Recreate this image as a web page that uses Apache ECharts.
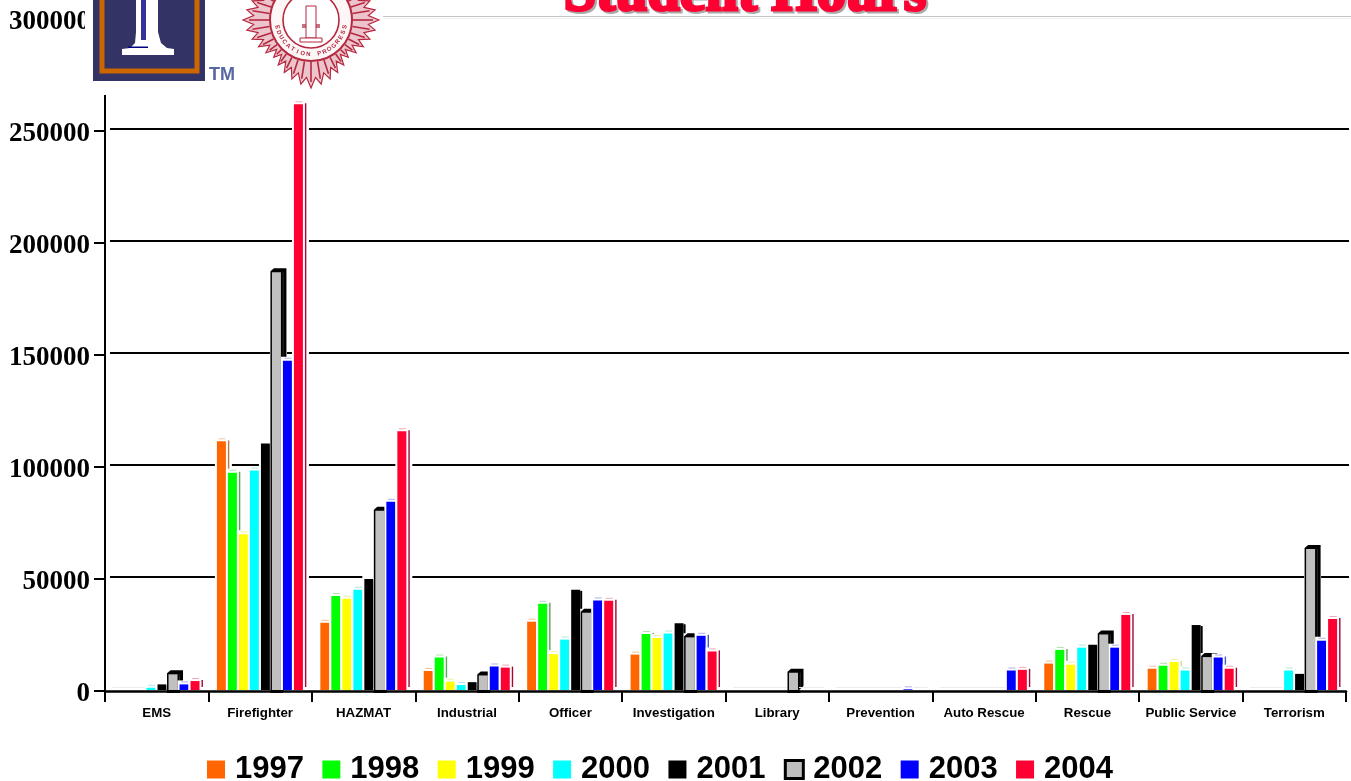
<!DOCTYPE html>
<html>
<head>
<meta charset="utf-8">
<style>html,body{margin:0;padding:0;background:#fff}#c{width:1351px;height:781px}</style>
<script src="https://cdn.jsdelivr.net/npm/echarts@6/dist/echarts.min.js"></script>
</head>
<body>
<div id="c"></div>
<script>
const categories = ['EMS','Firefighter','HAZMAT','Industrial','Officer','Investigation','Library','Prevention','Auto Rescue','Rescue','Public Service','Terrorism'];
const yTicks = [0,50000,100000,150000,200000,250000,300000];
const y1997 = [0,111000,30000,8500,30500,15800,0,0,0,11800,9500,0];
const y1998 = [0,97000,42000,14500,38500,25000,0,0,0,17900,10800,0];
const y1999 = [0,69500,40700,3700,16000,23200,0,0,0,11300,12500,0];
const y2000 = [1000,98000,44700,2200,22500,25200,0,0,0,18900,8700,8700];
const y2001 = [2500,110000,49500,3500,44700,29800,0,0,0,20200,29000,7200];
const y2002 = [7000,186500,80000,6500,34500,23500,7700,0,0,24800,14700,63000];
const y2003 = [2500,147000,84000,10500,40000,24200,0,300,8700,18900,14500,22000];
const y2004 = [4000,261500,115500,10000,39800,17200,0,0,9000,33500,9500,31700];

const years = ['1997','1998','1999','2000','2001','2002','2003','2004'];
const values = [y1997,y1998,y1999,y2000,y2001,y2002,y2003,y2004];
const colors = ['#ff6600','#00ff00','#ffff00','#00ffff','#000000','#c0c0c0','#0000ff','#ff0033'];
const sideColors = ['#b87848','#58a858','#d8d8a0','#a8e0e0','#000000','#000000','#5058c0','#a00838'];
const capColors = ['#f0c0a0','#b0e0b0','#f0f0a0','#b0e8e0','#d0d0d0','#000000','#b0b0e8','#f0a8b8'];

function renderBar(params, api) {
  const s = params.seriesIndex;
  const i = api.value(0), v = api.value(1);
  const p0 = api.coord([i, 0]), pv = api.coord([i, v]);
  const band = api.size([1, 0])[0];
  const pitch = band * 0.1064, w = band * 0.087;
  const x = p0[0] + (s - 3.5) * pitch - w / 2 - 0.2;
  const lift = 1, base = p0[1] - lift, top = pv[1] - lift;
  const kids = [];
  const rect = (rx, ry, rw, rh, fill) => kids.push({type:'rect', shape:{x:rx,y:ry,width:rw,height:rh}, style:{fill:fill}});
  if (v === 0) {
    rect(x - 1, base - 3, w + 5, 1, '#ececec');
    return {type:'group', children:kids};
  }
  rect(x - 2, top - 4, w + 8, base - top + 4, '#ffffff');
  if (s === 5) {
    kids.push({type:'polygon', shape:{points:[[x-1.5,top-1],[x+2,top-4],[x+w+5.5,top-4],[x+w+5.5,base-4],[x+w+1,base],[x-1.5,base]]}, style:{fill:'#000'}});
    rect(x - 1.5, base, w + 4, 3, '#000');
    rect(x + w + 1.8, top, 0.8, base - top - 3, '#303030');
    rect(x, top, w, base - top, colors[s]);
  } else if (s === 4) {
    rect(x, top, w, base - top, colors[s]);
    rect(x + w, top + 1, 2, base - top - 1, '#000');
  } else {
    rect(x, top, w, base - top, colors[s]);
    if (base - top > 8) rect(x + w + 2, top - 1, 1.4, base - top - 2, sideColors[s]);
    rect(x + 1.5, top - 3, w - 2, 1, capColors[s]);
  }
  return {type:'group', children:kids};
}

const series = years.map((y, k) => ({
  name: y, type: 'custom', xAxisIndex: 0, yAxisIndex: 0, z: 3, clip: false,
  renderItem: renderBar,
  itemStyle: {color: colors[k]},
  encode: {x: 0, y: 1},
  data: values[k].map((v, i) => [i, v])
}));

const legendData = years.map((y, k) => k === 5
  ? {name: y, itemStyle: {color: colors[k], borderColor: '#000', borderWidth: 3}}
  : {name: y, itemStyle: {color: colors[k]}});

/* header decoration */
const seal = [];
const sc = [311, 20], red = '#b5283f';
const starPts = [];
for (let a = 0; a < 360; a += 4.5) {
  const r0 = Math.abs(((a + 45) % 90) - 45);
  const outer = 68 - r0 * 0.34;
  const odd = Math.round(a / 4.5) % 2;
  const r = odd ? outer - 9 : outer;
  starPts.push([sc[0] + r * Math.cos(a * Math.PI / 180), sc[1] + r * Math.sin(a * Math.PI / 180)]);
}
seal.push({type:'polygon', z:102, shape:{points:starPts}, style:{fill:'#ecc4cb', stroke:red, lineWidth:1.2}});
for (let a = 0; a < 360; a += 9) {
  const c = Math.cos(a * Math.PI / 180), s = Math.sin(a * Math.PI / 180);
  const r0 = Math.abs(((a + 45) % 90) - 45), outer = 62 - r0 * 0.3;
  seal.push({type:'line', z:103, shape:{x1:sc[0]+42*c, y1:sc[1]+42*s, x2:sc[0]+outer*c, y2:sc[1]+outer*s}, style:{stroke:red, lineWidth:1.6}});
}
seal.push({type:'circle', z:104, shape:{cx:sc[0],cy:sc[1],r:41}, style:{fill:'#fdf6f6', stroke:red, lineWidth:2}});
seal.push({type:'circle', z:104, shape:{cx:sc[0],cy:sc[1],r:28}, style:{fill:'#fff', stroke:red, lineWidth:1.6}});
seal.push({type:'rect', z:105, shape:{x:302,y:24,width:18,height:4}, style:{fill:'#c8707f'}});
seal.push({type:'rect', z:105, shape:{x:306,y:6,width:10,height:32}, style:{fill:'#fff', stroke:red, lineWidth:1}});
seal.push({type:'rect', z:105, shape:{x:300,y:38,width:22,height:4}, style:{fill:'#fff', stroke:red, lineWidth:1}});
const sealText = 'EDUCATION PROGRESS';
[...sealText].forEach((ch, n) => {
  const deg = 90 + (sealText.length / 2 - n - 0.5) * 9.2;
  const rad = deg * Math.PI / 180;
  seal.push({type:'text', z:105, x: sc[0] + 34.5 * Math.cos(rad), y: sc[1] + 34.5 * Math.sin(rad), rotation: (deg - 90) * Math.PI / -180,
    style:{text: ch, fill: red, font: 'bold 6px "Liberation Sans"', textAlign:'center', textVerticalAlign:'middle'}});
});

const graphic = [
  {type:'rect', z:100, shape:{x:85,y:0,width:1266,height:95}, style:{fill:'#fff'}},
  {type:'rect', z:101, shape:{x:93,y:0,width:112,height:81}, style:{fill:'#333366'}},
  {type:'rect', z:102, shape:{x:102,y:-6,width:95,height:77}, style:{fill:'none', stroke:'#cc6600', lineWidth:5}},
  {type:'polygon', z:103, shape:{points:[[136,0],[158,0],[158,32],[161,43],[167,48],[174,49],[174,55],[122,55],[122,49],[130,48],[135,43],[136,32]]}, style:{fill:'#fff'}},
  {type:'rect', z:104, shape:{x:141,y:0,width:5,height:40}, style:{fill:'#333399'}},
  {type:'rect', z:104, shape:{x:128,y:46.5,width:20,height:1.5}, style:{fill:'#000080'}},
  {type:'text', z:103, x:209, y:66, style:{text:'TM', fill:'#5566a0', font:'bold 18px "Liberation Sans"'}},
  {type:'rect', z:101, shape:{x:383,y:16,width:968,height:1}, style:{fill:'#c4c4c4'}},
  {type:'rect', z:101, shape:{x:383,y:18,width:968,height:1}, style:{fill:'#efefef'}},
  {type:'text', z:106, x:747, y:26, style:{text:'Student Hours', fill:'#aaaaaa', font:'bold 58px "Liberation Serif"', textAlign:'center', textVerticalAlign:'bottom',
     stroke:'#aaaaaa', lineWidth:3}},
  {type:'text', z:107, x:745, y:24, style:{text:'Student Hours', fill:'#ff0033', font:'bold 58px "Liberation Serif"', textAlign:'center', textVerticalAlign:'bottom',
     stroke:'#ff0033', lineWidth:3}}
].concat(seal);

const chart = echarts.init(document.getElementById('c'), null, {renderer:'canvas'});
chart.setOption({
  animation: false,
  backgroundColor: '#fff',
  grid: [
    {left:105, right:5, top:19, bottom:90},
    {left:110, right:2, top:17, bottom:92}
  ],
  xAxis: [
    {type:'category', gridIndex:0, data:categories, boundaryGap:true, z:4,
     axisLine:{show:true, lineStyle:{color:'#000', width:2.5}},
     axisTick:{show:true, alignWithLabel:false, length:11, lineStyle:{color:'#000', width:2}},
     axisLabel:{interval:0, margin:16, color:'#000', fontFamily:'Liberation Sans', fontWeight:'bold', fontSize:13.3}},
    {type:'category', gridIndex:1, data:categories, show:false}
  ],
  yAxis: [
    {type:'value', gridIndex:0, min:yTicks[0], max:yTicks[6], interval:yTicks[1], z:4,
     axisLine:{show:true, lineStyle:{color:'#000', width:2}},
     axisTick:{show:true, length:11, lineStyle:{color:'#000', width:2}},
     axisLabel:{margin:15, color:'#000', fontFamily:'Liberation Serif', fontWeight:'bold', fontSize:27, verticalAlign:'top', lineHeight:6, formatter:(v)=>String(v)},
     splitLine:{show:false}},
    {type:'value', gridIndex:1, min:yTicks[0], max:yTicks[6], interval:yTicks[1], z:1,
     axisLine:{show:false}, axisTick:{show:false}, axisLabel:{show:false},
     splitLine:{show:true, showMinLine:false, showMaxLine:false, lineStyle:{color:'#000', width:2}}}
  ],
  legend: {
    show:true, data:legendData, left:207, top:754, padding:0, orient:'horizontal', icon:'rect',
    itemWidth:18, itemHeight:18, itemGap:18.4, selectedMode:false,
    textStyle:{color:'#000', fontFamily:'Liberation Sans', fontWeight:'bold', fontSize:31, padding:[0,0,0,5]}
  },
  graphic: {elements: graphic},
  series: series
});
</script>
</body>
</html>
